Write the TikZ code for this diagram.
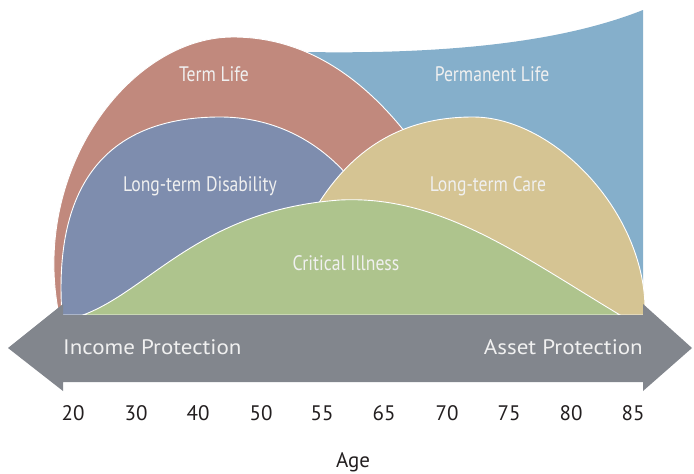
\documentclass[tikz,border=0pt]{standalone}
\usepackage{fontspec}
\usepackage{graphicx}
\setmainfont{PT Sans}
\definecolor{termc}{HTML}{C1897D}
\definecolor{permc}{HTML}{85AFCB}
\definecolor{ltdc}{HTML}{7E8DAE}
\definecolor{ltcc}{HTML}{D5C493}
\definecolor{cric}{HTML}{AEC48D}
\definecolor{bandc}{HTML}{82868D}
\definecolor{txtc}{HTML}{231F20}
\newcommand{\narrowtxt}[1]{\scalebox{0.84}[1]{#1}}
\newcommand{\widetxt}[1]{\scalebox{1.095}[1]{#1}}
\tikzset{
  region/.style={draw=white, line width=0.9pt},
  inlabel/.style={text=white!94!black, font=\fontsize{21}{25}\selectfont, inner sep=0pt},
  ticklabel/.style={text=txtc, font=\fontsize{21}{25}\selectfont, inner sep=0pt, anchor=base},
}
\begin{document}
\begin{tikzpicture}[x=1pt,y=-1pt]
\useasboundingbox (0,0) rectangle (694,474);
% Permanent Life
\fill[permc] (305,52) .. controls (480,55) and (580,35) .. (643,10) -- (643,315) -- (305,315) -- cycle;
% Term Life
\path[region, fill=termc] (59,315) .. controls (30,170) and (130,37) .. (233,37)
   .. controls (330,37) and (400,110) .. (450,200) -- (450,315) -- cycle;
% Long-term Disability
\path[region, fill=ltdc] (62,315) .. controls (52,170) and (120,117) .. (220,117)
   .. controls (300,117) and (360,170) .. (385,240) -- (385,315) -- cycle;
% Long-term Care
\path[region, fill=ltcc] (290,260) .. controls (330,160) and (390,117) .. (473,117)
   .. controls (555,117) and (648,215) .. (645,315) -- (290,315) -- cycle;
% Critical Illness
\path[region, fill=cric] (83,315) .. controls (150,290) and (200,210) .. (340,200)
   .. controls (440,195) and (520,255) .. (620,315) -- cycle;
% band arrow
\fill[bandc] (8,348) -- (63,304) -- (63,315) -- (643,315) -- (643,304) -- (692,348)
   -- (643,391) -- (643,382) -- (63,382) -- (63,391) -- cycle;
% labels
\node[inlabel, anchor=base] (tl) at (214,81.7) {\narrowtxt{Term Life}};
\node[inlabel, anchor=base] (pl) at (492,81.7) {\narrowtxt{Permanent Life}};
\node[inlabel, anchor=base] (ltd) at (200,191.5) {\narrowtxt{Long-term Disability}};
\node[inlabel, anchor=base] (ltc) at (488,191.5) {\narrowtxt{Long-term Care}};
\node[inlabel, anchor=base] (ci) at (346,270) {\narrowtxt{Critical Illness}};
\node[inlabel, anchor=base west] (ip) at (63,354.5) {\widetxt{Income Protection}};
\node[inlabel, anchor=base east] (ap) at (643,354.5) {\widetxt{Asset Protection}};
% ticks
\foreach \v/\x in {20/73,30/136,40/198,50/261,55/322,65/384,70/447,75/509,80/571,85/633}
  \node[ticklabel] (t\v) at (\x,420) {\v};
\node[ticklabel] (age) at (353,467) {Age};
\end{tikzpicture}
\end{document}
